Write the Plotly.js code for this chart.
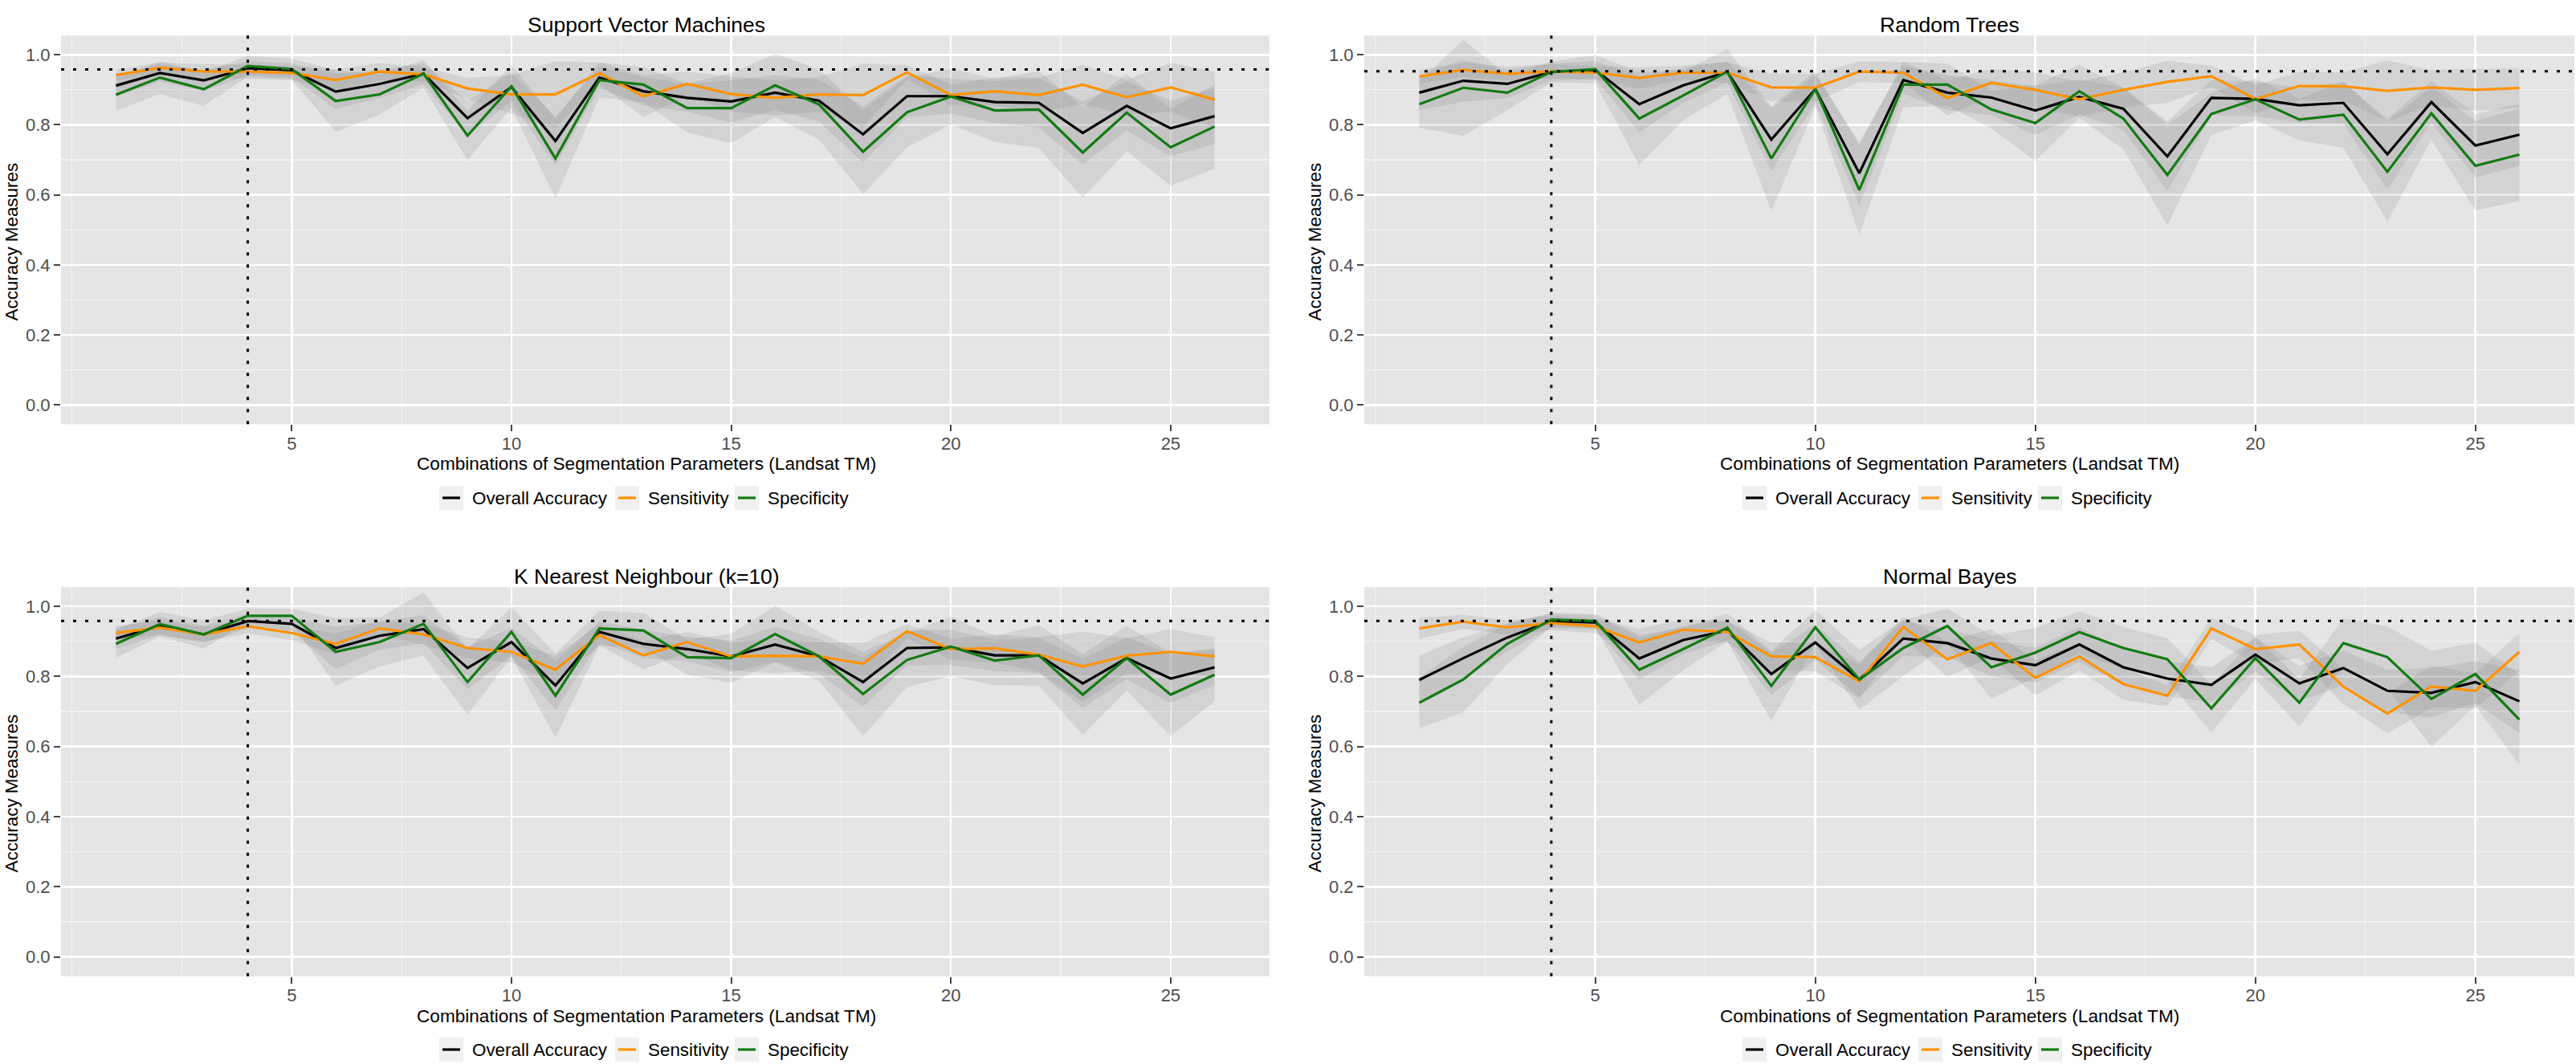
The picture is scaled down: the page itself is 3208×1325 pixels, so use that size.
<!DOCTYPE html>
<html>
<head>
<meta charset="utf-8">
<script src="https://cdn.plot.ly/plotly-3.0.1.min.js"></script>
<style>html,body{margin:0;padding:0;background:#fff;}#chart{width:3208px;height:1325px;}</style>
</head>
<body>
<div id="chart"></div>
<script>
// ---- data ----
const combos = [1,2,3,4,5,6,7,8,9,10,11,12,13,14,15,16,17,18,19,20,21,22,23,24,25,26];
const panelTitles = ["Support Vector Machines","Random Trees","K Nearest Neighbour (k=10)","Normal Bayes"];
const seriesNames = ["Overall Accuracy","Sensitivity","Specificity"];
const xTitleText = "Combinations of Segmentation Parameters (Landsat TM)";
const yTitleText = "Accuracy Measures";
const refAccuracy = [0.958,0.953,0.958,0.958];
const refCombination = 4;
const xTickVals = [5,10,15,20,25];
const xMinorVals = [0,2.5,7.5,12.5,17.5,22.5];

const svmAcc = [0.912,0.948,0.927,0.962,0.956,0.895,0.917,0.946,0.819,0.908,0.754,0.935,0.896,0.877,0.867,0.892,0.869,0.773,0.882,0.882,0.865,0.863,0.777,0.854,0.790,0.825];
const svmSen = [0.942,0.963,0.953,0.952,0.948,0.928,0.952,0.944,0.904,0.887,0.887,0.948,0.882,0.917,0.888,0.877,0.887,0.885,0.950,0.885,0.896,0.885,0.915,0.879,0.907,0.872];
const svmSpe = [0.886,0.935,0.902,0.968,0.959,0.868,0.887,0.946,0.769,0.910,0.704,0.928,0.915,0.848,0.848,0.913,0.858,0.723,0.836,0.881,0.841,0.844,0.721,0.835,0.736,0.795];
const svmAccSd = [0.03,0.025,0.03,0.02,0.02,0.05,0.04,0.03,0.05,0.04,0.07,0.03,0.04,0.04,0.06,0.05,0.06,0.08,0.06,0.05,0.06,0.07,0.09,0.07,0.08,0.08];
const svmSenSd = [0.015,0.015,0.02,0.02,0.02,0.03,0.025,0.02,0.03,0.055,0.095,0.03,0.06,0.035,0.05,0.05,0.05,0.09,0.02,0.03,0.04,0.05,0.056,0.05,0.07,0.08];
const svmSpeSd = [0.046,0.047,0.048,0.03,0.03,0.088,0.057,0.04,0.07,0.06,0.114,0.05,0.05,0.07,0.10,0.09,0.10,0.12,0.10,0.08,0.09,0.11,0.13,0.11,0.11,0.12];

const rtAcc = [0.892,0.926,0.917,0.951,0.957,0.859,0.913,0.951,0.758,0.902,0.662,0.928,0.892,0.878,0.841,0.880,0.846,0.710,0.877,0.874,0.856,0.863,0.716,0.865,0.741,0.772];
const rtSen = [0.938,0.957,0.946,0.953,0.949,0.934,0.949,0.949,0.907,0.906,0.952,0.949,0.877,0.920,0.900,0.873,0.900,0.923,0.939,0.874,0.911,0.910,0.897,0.907,0.900,0.905];
const rtSpe = [0.859,0.906,0.892,0.951,0.959,0.818,0.884,0.952,0.704,0.902,0.614,0.915,0.915,0.844,0.805,0.896,0.818,0.657,0.831,0.873,0.815,0.829,0.666,0.833,0.683,0.715];
const rtAccSd = [0.05,0.06,0.04,0.025,0.025,0.08,0.05,0.03,0.09,0.04,0.09,0.04,0.05,0.05,0.07,0.05,0.06,0.10,0.05,0.05,0.05,0.06,0.10,0.06,0.09,0.09];
const rtSenSd = [0.02,0.02,0.02,0.02,0.02,0.03,0.02,0.03,0.04,0.04,0.03,0.03,0.05,0.04,0.05,0.05,0.05,0.06,0.03,0.04,0.04,0.04,0.087,0.05,0.06,0.056];
const rtSpeSd = [0.067,0.137,0.05,0.03,0.04,0.133,0.07,0.064,0.15,0.05,0.128,0.065,0.06,0.054,0.108,0.076,0.088,0.144,0.06,0.06,0.06,0.094,0.142,0.075,0.128,0.132];

const knnAcc = [0.908,0.944,0.920,0.958,0.950,0.881,0.916,0.935,0.824,0.898,0.774,0.927,0.893,0.878,0.857,0.891,0.857,0.784,0.881,0.883,0.860,0.860,0.780,0.852,0.794,0.826];
const knnSen = [0.924,0.939,0.920,0.943,0.924,0.893,0.937,0.920,0.881,0.870,0.819,0.918,0.860,0.898,0.857,0.859,0.857,0.836,0.929,0.878,0.880,0.862,0.828,0.859,0.870,0.857];
const knnSpe = [0.893,0.949,0.920,0.973,0.973,0.870,0.898,0.950,0.784,0.927,0.745,0.937,0.931,0.855,0.852,0.921,0.857,0.750,0.847,0.885,0.845,0.860,0.748,0.852,0.748,0.805];
const knnAccSd = [0.03,0.025,0.025,0.02,0.02,0.06,0.04,0.04,0.06,0.04,0.07,0.03,0.04,0.035,0.045,0.05,0.05,0.07,0.05,0.05,0.045,0.05,0.07,0.06,0.07,0.05];
const knnSenSd = [0.02,0.02,0.02,0.02,0.02,0.03,0.02,0.03,0.03,0.03,0.04,0.03,0.04,0.03,0.04,0.05,0.04,0.06,0.02,0.03,0.04,0.05,0.10,0.05,0.065,0.055];
const knnSpeSd = [0.04,0.035,0.04,0.02,0.02,0.096,0.07,0.09,0.094,0.07,0.12,0.05,0.05,0.05,0.07,0.08,0.07,0.12,0.077,0.085,0.07,0.086,0.115,0.093,0.118,0.076];

const nbAcc = [0.790,0.852,0.911,0.958,0.954,0.851,0.904,0.931,0.807,0.897,0.791,0.908,0.895,0.851,0.832,0.891,0.826,0.794,0.776,0.862,0.780,0.824,0.759,0.753,0.784,0.729];
const nbSen = [0.937,0.956,0.940,0.952,0.943,0.897,0.933,0.927,0.857,0.855,0.786,0.941,0.849,0.895,0.796,0.857,0.778,0.745,0.937,0.878,0.891,0.771,0.694,0.771,0.759,0.870];
const nbSpe = [0.725,0.791,0.893,0.962,0.958,0.819,0.878,0.939,0.773,0.940,0.791,0.881,0.944,0.826,0.868,0.926,0.881,0.849,0.709,0.852,0.725,0.895,0.855,0.736,0.807,0.677];
const nbAccSd = [0.07,0.06,0.04,0.02,0.02,0.06,0.04,0.03,0.06,0.05,0.05,0.05,0.04,0.05,0.05,0.05,0.05,0.05,0.05,0.05,0.05,0.05,0.06,0.07,0.06,0.09];
const nbSenSd = [0.03,0.02,0.02,0.02,0.02,0.04,0.03,0.03,0.04,0.04,0.05,0.03,0.05,0.04,0.05,0.04,0.045,0.03,0.03,0.04,0.04,0.05,0.057,0.06,0.05,0.054];
const nbSpeSd = [0.073,0.093,0.057,0.02,0.02,0.10,0.06,0.04,0.10,0.05,0.085,0.08,0.05,0.09,0.07,0.06,0.06,0.06,0.068,0.06,0.068,0.07,0.088,0.137,0.09,0.128];

// ---- build ----
const FONT = "Liberation Sans, Arial, Helvetica, sans-serif";
const lineColors = ["#000000", "#ff9200", "#137a13"];
const ribbonFill = "rgba(127,127,127,0.17)";

const panels = [
  {mean:[svmAcc,svmSen,svmSpe], sd:[svmAccSd,svmSenSd,svmSpeSd]},
  {mean:[rtAcc,rtSen,rtSpe], sd:[rtAccSd,rtSenSd,rtSpeSd]},
  {mean:[knnAcc,knnSen,knnSpe], sd:[knnAccSd,knnSenSd,knnSpeSd]},
  {mean:[nbAcc,nbSen,nbSpe], sd:[nbAccSd,nbSenSd,nbSpeSd]}
];

const W = 3208, H = 1325;
const xDom = [[76/W, 1581/W], [1699/W, 3206/W]];
const yDom = [[1-528.3/H, 1-44.3/H], [1-1215.7/H, 1-731/H]];
// text placement (pixels, for the top-left facet; other facets are offset)
const colOffset = 1623, rowOffset = 687;
const centerX = 805;
const titleCY = 31, xTitleCY = 578, yTitleCX = 13.5, yTitleCY = 301;
const legKeyLeft = [547, 766, 915];
const legKeySize = 30;
const legCenterY = 620;

const traces = [];
const layout = {
  width: W, height: H,
  margin: {l:0, r:0, t:0, b:0},
  paper_bgcolor: "#ffffff",
  plot_bgcolor: "#e5e5e5",
  font: {family: FONT, size: 22, color: "#000"},
  annotations: [],
  shapes: [],
  showlegend: false
};

const px = v => v / W;
const py = v => 1 - v / H;

panels.forEach((p, i) => {
  const n = i + 1;
  const sfx = n === 1 ? "" : String(n);
  const col = i % 2, row = Math.floor(i / 2);
  const xa = "x" + sfx, ya = "y" + sfx;
  const ox = col * colOffset, oy = row * rowOffset;

  // ribbons
  for (let s = 0; s < 3; s++) {
    const up = p.mean[s].map((v, k) => v + p.sd[s][k]);
    const lo = p.mean[s].map((v, k) => v - p.sd[s][k]);
    traces.push({
      type: "scatter", mode: "lines", xaxis: xa, yaxis: ya,
      x: combos.concat(combos.slice().reverse()),
      y: up.concat(lo.slice().reverse()),
      fill: "toself", fillcolor: ribbonFill,
      line: {width: 0, color: "rgba(0,0,0,0)"},
      hoverinfo: "skip", showlegend: false
    });
  }
  // lines
  for (let s = 0; s < 3; s++) {
    traces.push({
      type: "scatter", mode: "lines", xaxis: xa, yaxis: ya,
      x: combos, y: p.mean[s], name: seriesNames[s],
      line: {color: lineColors[s], width: 3.2},
      showlegend: false
    });
  }

  layout["xaxis" + sfx] = {
    domain: xDom[col], anchor: ya, range: [-0.25, 27.25],
    tickmode: "array", tickvals: xTickVals, ticktext: xTickVals.map(String),
    ticks: "outside", ticklen: 8, tickwidth: 2, tickcolor: "#444444",
    ticklabelstandoff: -4,
    tickfont: {size: 22, color: "#4d4d4d", family: FONT},
    showgrid: true, gridcolor: "#ffffff", gridwidth: 2.5,
    zeroline: false, showline: false,
    minor: {tickmode: "array", tickvals: xMinorVals, showgrid: true, gridcolor: "#f2f2f2", gridwidth: 1.2, ticks: ""},
    automargin: false
  };
  layout["yaxis" + sfx] = {
    domain: yDom[row], anchor: xa, range: [-0.055, 1.055],
    tick0: 0, dtick: 0.2, tickformat: ".1f",
    ticks: "outside", ticklen: 8, tickwidth: 2, tickcolor: "#444444",
    tickfont: {size: 22, color: "#4d4d4d", family: FONT},
    showgrid: true, gridcolor: "#ffffff", gridwidth: 2.5,
    zeroline: false, showline: false,
    minor: {tick0: 0.1, dtick: 0.2, showgrid: true, gridcolor: "#f2f2f2", gridwidth: 1.2, ticks: ""},
    automargin: false
  };

  // panel title
  layout.annotations.push({
    text: panelTitles[i], xref: "paper", yref: "paper",
    x: px(centerX + ox), y: py(titleCY + oy),
    xanchor: "center", yanchor: "middle", showarrow: false,
    font: {size: 26.5, color: "#000", family: FONT}
  });
  // axis titles
  layout.annotations.push({
    text: xTitleText, xref: "paper", yref: "paper",
    x: px(centerX + ox), y: py(xTitleCY + oy),
    xanchor: "center", yanchor: "middle", showarrow: false,
    font: {size: 22.6, color: "#000", family: FONT}
  });
  layout.annotations.push({
    text: yTitleText, xref: "paper", yref: "paper", textangle: -90,
    x: px(yTitleCX + ox), y: py(yTitleCY + oy),
    xanchor: "center", yanchor: "middle", showarrow: false,
    font: {size: 22.4, color: "#000", family: FONT}
  });

  // reference dotted lines
  layout.shapes.push({
    type: "line", xref: xa + " domain", yref: ya, x0: 0, x1: 1,
    y0: refAccuracy[i], y1: refAccuracy[i],
    line: {color: "#000", width: 3, dash: "4px,11px"}, layer: "above"
  });
  layout.shapes.push({
    type: "line", xref: xa, yref: ya + " domain", x0: refCombination, x1: refCombination,
    y0: 0, y1: 1,
    line: {color: "#000", width: 3, dash: "4px,11px"}, layer: "above"
  });

  // legend (keys + labels) below each panel
  const cy = legCenterY + oy;
  for (let s = 0; s < 3; s++) {
    const kx = legKeyLeft[s] + ox;
    layout.shapes.push({
      type: "rect", xref: "paper", yref: "paper",
      x0: px(kx), x1: px(kx + legKeySize), y0: py(cy - legKeySize/2), y1: py(cy + legKeySize/2),
      fillcolor: "#f0f0f0", line: {width: 0}, layer: "below"
    });
    layout.shapes.push({
      type: "line", xref: "paper", yref: "paper",
      x0: px(kx + 4), x1: px(kx + legKeySize - 4), y0: py(cy), y1: py(cy),
      line: {color: lineColors[s], width: 3.2}
    });
    layout.annotations.push({
      text: seriesNames[s], xref: "paper", yref: "paper",
      x: px(kx + legKeySize + 9), y: py(cy), xanchor: "left", yanchor: "middle",
      showarrow: false, font: {size: 22.4, color: "#000", family: FONT}
    });
  }
});

Plotly.newPlot("chart", traces, layout, {displayModeBar: false, staticPlot: true});
</script>
</body>
</html>
